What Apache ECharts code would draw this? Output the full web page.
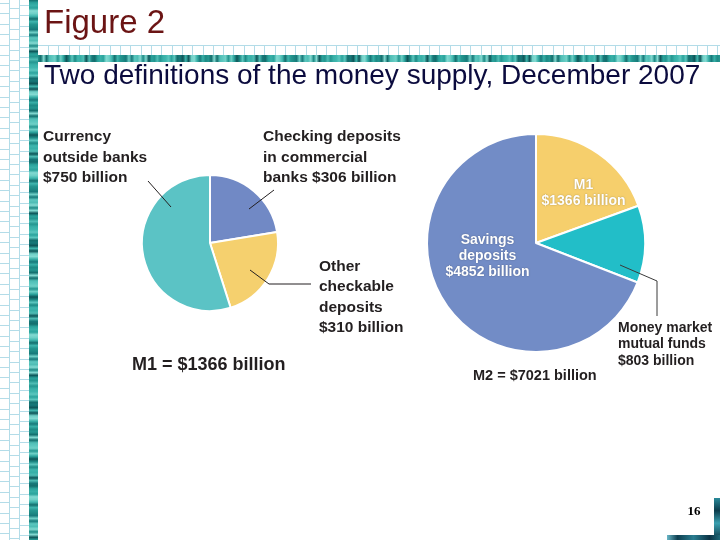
<!DOCTYPE html>
<html><head><meta charset="utf-8">
<script src="https://cdn.jsdelivr.net/npm/echarts@6/dist/echarts.min.js"></script>
<style>html,body{margin:0;padding:0;background:#fff}#c{width:720px;height:540px}</style>
</head><body><div id="c"></div>
<script>
// ---- data ----
const m1Categories = ['Checking deposits in commercial banks', 'Other checkable deposits', 'Currency outside banks'];
const m1Values = [306, 310, 750];
const m1LabelText = ['Checking deposits\nin commercial\nbanks $306 billion', 'Other\ncheckable\ndeposits\n$310 billion', 'Currency\noutside banks\n$750 billion'];
const m2Categories = ['M1', 'Money market mutual funds', 'Savings deposits'];
const m2Values = [1366, 803, 4852];
const m2LabelText = ['M1\n$1366 billion', 'Money market\nmutual funds\n$803 billion', 'Savings\ndeposits\n$4852 billion'];
const titleText = 'Figure 2';
const subtitleText = 'Two definitions of the money supply, December 2007';
const m1TotalText = 'M1 = $1366 billion';
const m2TotalText = 'M2 = $7021 billion';
const pageNumber = '16';

// ---- layout / style ----
const LC = [210, 243], LR = 68;
const RC = [536, 243], RR = 109;
const m1Colors = ['#7189c5', '#f5d06e', '#5bc3c5'];
const m2Colors = ['#f6cf6c', '#22bec8', '#728cc6'];
const labelFont = '"Liberation Sans", Arial, sans-serif';
const leftSpecs = [
  {x: 263, y: 127, align: 'left', line: [[39, -34], [64, -53]]},
  {x: 319, y: 256.5, align: 'left', line: [[40, 27], [59, 41], [101, 41]]},
  {x: 43, y: 127, align: 'left', line: [[-39, -36], [-62, -62]]}
];
const rightSpecs = [
  {x: 583.5, y: 177, align: 'center'},
  {x: 618, y: 320, align: 'left', line: [[84, 22], [121, 38], [121, 73]]},
  {x: 487.5, y: 231.5, align: 'center'}
];
function makeLayout(specs) {
  return function (p) {
    const s = specs[p.dataIndex];
    return {x: s.x, y: s.y, align: s.align, verticalAlign: 'top'};
  };
}

// ---- decoration ----
const teal = ['#2aa39c', '#4fbdb5', '#1d8a85', '#6fd0c7', '#136e6d', '#38b0a8', '#0d5558', '#5cc7bf', '#249690', '#83dad2', '#17797a', '#3fb6ae'];
function tealStops(n, seed) {
  const s = [];
  for (let i = 0; i <= n; i++) {
    const k = (i * 7 + seed * 3 + ((i * i + seed) % 5)) % teal.length;
    s.push({offset: i / n, color: teal[k]});
  }
  return s;
}
const gridColor = '#b3dce8';
const deco = [];
deco.push({type: 'line', shape: {x1: 9.5, y1: 0, x2: 9.5, y2: 540}, style: {stroke: gridColor, lineWidth: 1}, silent: true});
deco.push({type: 'line', shape: {x1: 19.5, y1: 0, x2: 19.5, y2: 540}, style: {stroke: gridColor, lineWidth: 1}, silent: true});
const colOff = [3, 8, 5];
for (let c = 0; c < 3; c++) {
  for (let y = colOff[c]; y < 540; y += 10.4) {
    const yy = Math.round(y) + 0.5;
    deco.push({type: 'line', shape: {x1: c * 10 - 0.5, y1: yy, x2: c * 10 + 9.5, y2: yy}, style: {stroke: gridColor, lineWidth: 1}, silent: true});
  }
}
deco.push({type: 'line', shape: {x1: 38, y1: 45.5, x2: 720, y2: 45.5}, style: {stroke: gridColor, lineWidth: 1}, silent: true});
for (let x = 48; x < 720; x += 10.3) {
  const xx = Math.round(x) + 0.5;
  deco.push({type: 'line', shape: {x1: xx, y1: 45, x2: xx, y2: 55}, style: {stroke: gridColor, lineWidth: 1}, silent: true});
}
deco.push({type: 'rect', shape: {x: 29, y: 0, width: 9, height: 540}, style: {fill: {type: 'linear', x: 0, y: 0, x2: 0, y2: 1, colorStops: tealStops(200, 1)}}, silent: true});
deco.push({type: 'rect', shape: {x: 38, y: 55, width: 682, height: 7}, style: {fill: {type: 'linear', x: 0, y: 0, x2: 1, y2: 0, colorStops: tealStops(240, 2)}}, silent: true});
deco.push({type: 'rect', shape: {x: 714, y: 498, width: 6, height: 42}, style: {fill: {type: 'linear', x: 0, y: 0, x2: 0, y2: 1, colorStops: [{offset: 0, color: '#2a8a9a'}, {offset: 0.3, color: '#0c3c4c'}, {offset: 0.6, color: '#3aa0b0'}, {offset: 1, color: '#0a3040'}]}}, silent: true});
deco.push({type: 'rect', shape: {x: 667, y: 535, width: 53, height: 5}, style: {fill: {type: 'linear', x: 0, y: 0, x2: 1, y2: 0, colorStops: [{offset: 0, color: '#6ab8c8'}, {offset: 0.2, color: '#0e3f50'}, {offset: 0.5, color: '#2a7d90'}, {offset: 0.8, color: '#0b3345'}, {offset: 1, color: '#1e6878'}]}}, silent: true});

// leader lines (annotations placed relative to each pie's centre)
function leader(center, pts, color) {
  return {type: 'polyline', z: 50, silent: true,
    shape: {points: pts.map(q => [center[0] + q[0], center[1] + q[1]])},
    style: {stroke: color, lineWidth: 1, fill: null}};
}
leftSpecs.forEach(s => { if (s.line) deco.push(leader(LC, s.line, '#231f20')); });
rightSpecs.forEach(s => { if (s.line) deco.push(leader(RC, s.line, '#3a3a3a')); });

// texts
deco.push({type: 'text', x: 44, y: 23.5, style: {text: titleText, font: '33px "Liberation Sans", Arial, sans-serif', fill: '#6b1414', verticalAlign: 'middle'}, silent: true});
deco.push({type: 'text', x: 44, y: 76.5, style: {text: subtitleText, font: '28px "Liberation Sans", Arial, sans-serif', fill: '#0b0b3e', verticalAlign: 'middle'}, silent: true});
deco.push({type: 'text', x: 132, y: 365, style: {text: m1TotalText, font: 'bold 18px ' + labelFont, fill: '#231f20', verticalAlign: 'middle'}, silent: true});
deco.push({type: 'text', x: 473, y: 376, style: {text: m2TotalText, font: 'bold 14.5px ' + labelFont, fill: '#231f20', verticalAlign: 'middle'}, silent: true});
deco.push({type: 'text', x: 694, y: 512, style: {text: pageNumber, font: 'bold 13px "Liberation Serif", serif', fill: '#000', align: 'center', verticalAlign: 'middle'}, silent: true});

const chart = echarts.init(document.getElementById('c'), null, {renderer: 'canvas'});
chart.setOption({
  animation: false,
  graphic: {elements: deco},
  series: [
    {
      type: 'pie', center: LC, radius: LR, startAngle: 90, clockwise: true,
      avoidLabelOverlap: false, silent: true,
      itemStyle: {borderColor: '#fff', borderWidth: 2},
      label: {show: true, position: 'outside', fontFamily: labelFont, fontWeight: 'bold', fontSize: 15.5, lineHeight: 20.3, color: '#231f20',
        formatter: p => m1LabelText[p.dataIndex]},
      labelLine: {show: false},
      labelLayout: makeLayout(leftSpecs),
      data: m1Categories.map((n, i) => ({name: n, value: m1Values[i], itemStyle: {color: m1Colors[i]}}))
    },
    {
      type: 'pie', center: RC, radius: RR, startAngle: 90, clockwise: true,
      avoidLabelOverlap: false, silent: true,
      itemStyle: {borderColor: '#fff', borderWidth: 2},
      label: {show: true, position: 'outside', fontFamily: labelFont, fontWeight: 'bold', fontSize: 14, lineHeight: 16.3, color: '#231f20',
        formatter: p => m2LabelText[p.dataIndex]},
      labelLine: {show: false},
      labelLayout: makeLayout(rightSpecs),
      data: m2Categories.map((n, i) => {
        const d = {name: n, value: m2Values[i], itemStyle: {color: m2Colors[i]}};
        if (i !== 1) {
          d.label = {position: 'inside', color: '#fff', textShadowColor: 'rgba(0,0,0,0.35)', textShadowBlur: 1.5};
        }
        return d;
      })
    }
  ]
});
</script></body></html>
